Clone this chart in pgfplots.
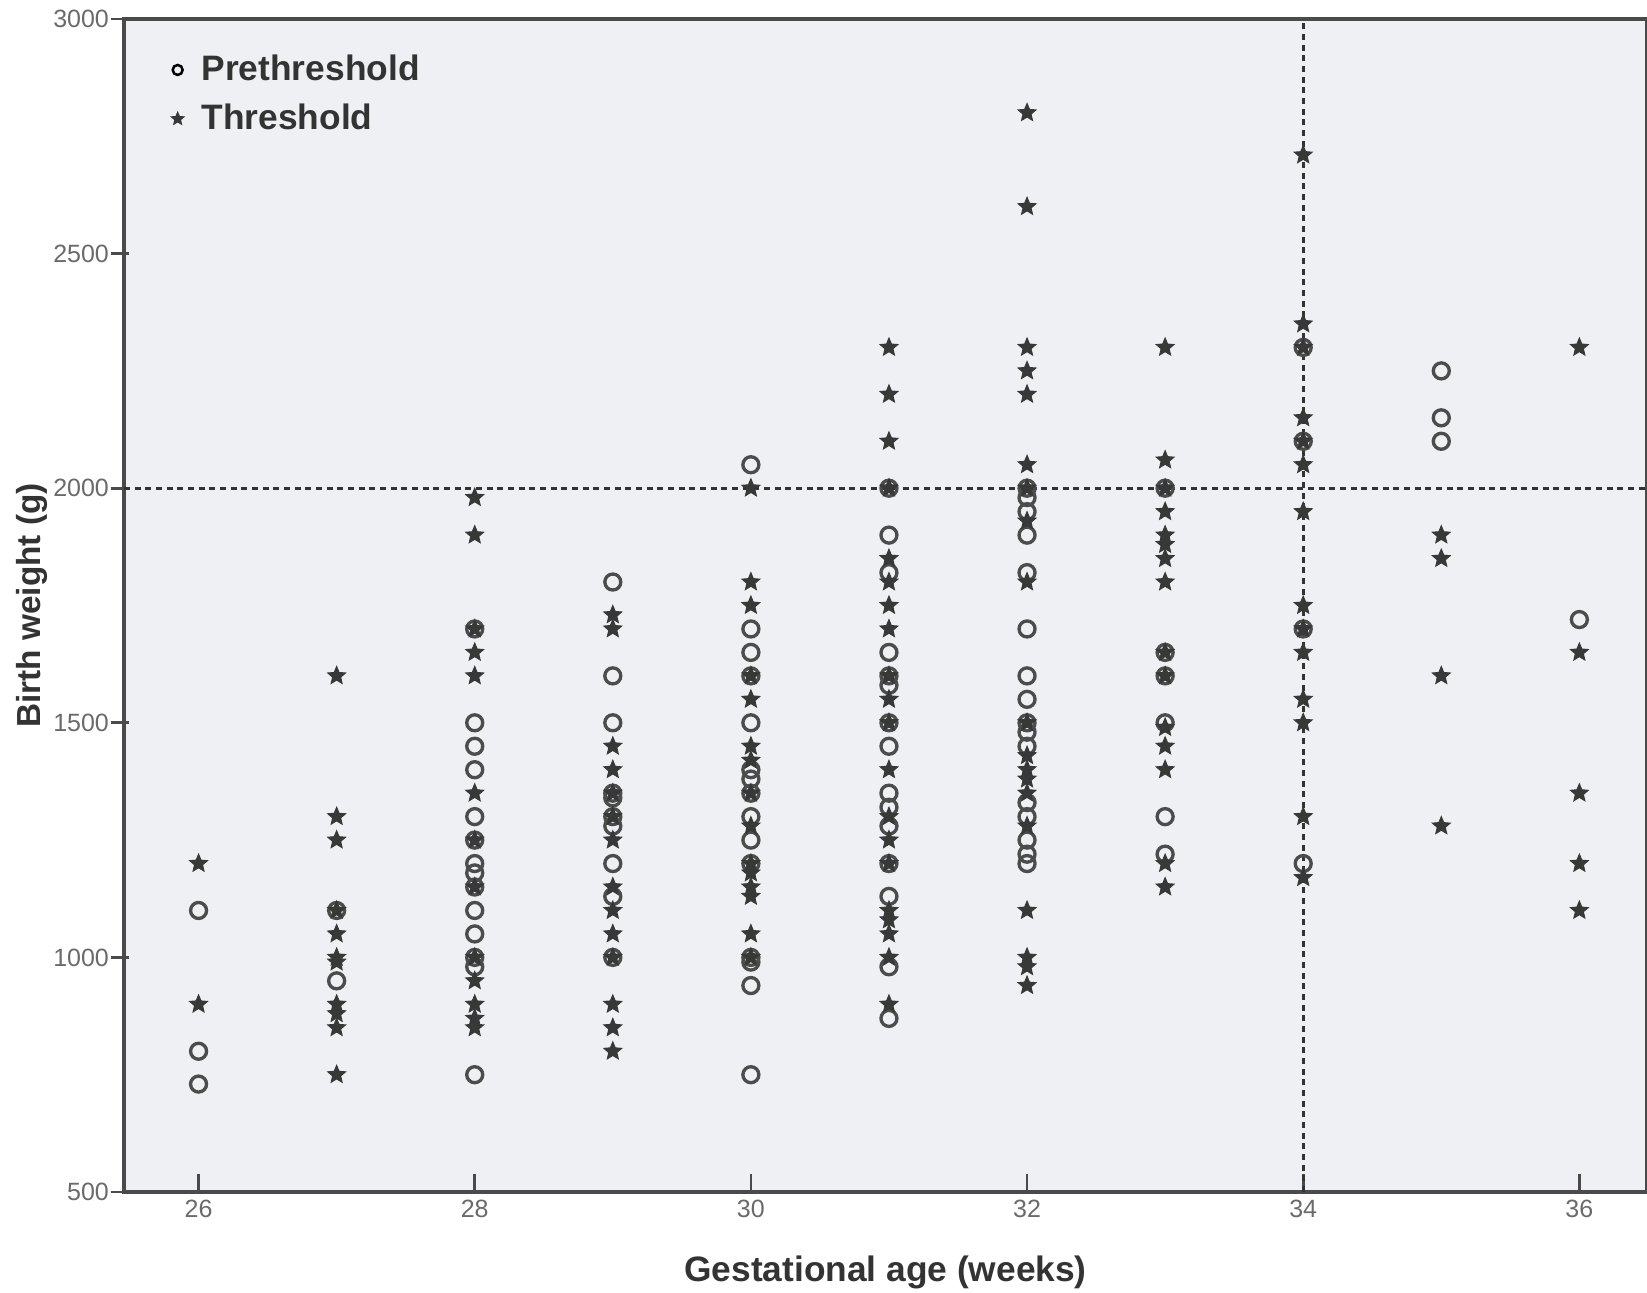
\documentclass[border=0pt]{standalone}
\usepackage{pgfplots}
\pgfplotsset{compat=1.18}
\usepackage{pgfplotstable}
\usepackage{fontspec}
\setmainfont{Liberation Sans}
\definecolor{bgc}{HTML}{EEF0F4}
\definecolor{mk}{HTML}{383838}
\definecolor{ck}{HTML}{4C4C4C}
\definecolor{ax}{HTML}{4A4A4A}
\definecolor{tl}{HTML}{6A6A6A}

\makeatletter
\pgfdeclareplotmark{fstar}{%
  \pgfpathmoveto{\pgfqpointpolar{90}{\pgfplotmarksize}}%
  \pgfpathlineto{\pgfqpointpolar{126}{0.45\pgfplotmarksize}}%
  \pgfpathlineto{\pgfqpointpolar{162}{\pgfplotmarksize}}%
  \pgfpathlineto{\pgfqpointpolar{198}{0.45\pgfplotmarksize}}%
  \pgfpathlineto{\pgfqpointpolar{234}{\pgfplotmarksize}}%
  \pgfpathlineto{\pgfqpointpolar{270}{0.45\pgfplotmarksize}}%
  \pgfpathlineto{\pgfqpointpolar{306}{\pgfplotmarksize}}%
  \pgfpathlineto{\pgfqpointpolar{342}{0.45\pgfplotmarksize}}%
  \pgfpathlineto{\pgfqpointpolar{18}{\pgfplotmarksize}}%
  \pgfpathlineto{\pgfqpointpolar{54}{0.45\pgfplotmarksize}}%
  \pgfpathclose
  \pgfusepathqfillstroke
}
\makeatother

\pgfplotstableread{
x y
26 1100
26 800
26 730
27 1100
27 950
28 1700
28 1500
28 1450
28 1400
28 1300
28 1250
28 1200
28 1180
28 1150
28 1100
28 1050
28 1000
28 980
28 750
29 1800
29 1600
29 1500
29 1350
29 1340
29 1300
29 1280
29 1200
29 1130
29 1000
30 2050
30 1700
30 1650
30 1600
30 1500
30 1400
30 1380
30 1350
30 1300
30 1250
30 1200
30 1000
30 990
30 940
30 750
31 2000
31 1900
31 1820
31 1650
31 1600
31 1580
31 1500
31 1450
31 1350
31 1320
31 1280
31 1200
31 1130
31 980
31 870
32 2000
32 1980
32 1950
32 1900
32 1820
32 1700
32 1600
32 1550
32 1500
32 1480
32 1450
32 1330
32 1300
32 1250
32 1220
32 1200
33 2000
33 1650
33 1600
33 1500
33 1300
33 1220
34 2300
34 2100
34 1700
34 1200
35 2250
35 2150
35 2100
36 1720
}\pre

\pgfplotstableread{
x y
26 1200
26 900
27 1600
27 1300
27 1250
27 1100
27 1050
27 1000
27 990
27 900
27 880
27 850
27 750
28 1980
28 1900
28 1700
28 1650
28 1600
28 1350
28 1250
28 1150
28 1000
28 950
28 900
28 870
28 850
29 1730
29 1700
29 1450
29 1400
29 1350
29 1300
29 1250
29 1150
29 1100
29 1050
29 1000
29 900
29 850
29 800
30 2000
30 1800
30 1750
30 1600
30 1550
30 1450
30 1420
30 1350
30 1280
30 1200
30 1180
30 1150
30 1130
30 1050
30 1000
31 2300
31 2200
31 2100
31 2000
31 1850
31 1800
31 1750
31 1700
31 1600
31 1550
31 1500
31 1400
31 1300
31 1250
31 1200
31 1100
31 1080
31 1050
31 1000
31 900
32 2800
32 2600
32 2300
32 2250
32 2200
32 2050
32 2000
32 1930
32 1800
32 1500
32 1430
32 1400
32 1380
32 1350
32 1280
32 1100
32 1000
32 980
32 940
33 2300
33 2060
33 2000
33 1950
33 1900
33 1880
33 1850
33 1800
33 1650
33 1600
33 1490
33 1450
33 1400
33 1200
33 1150
34 2710
34 2350
34 2300
34 2150
34 2100
34 2050
34 1950
34 1750
34 1700
34 1650
34 1550
34 1500
34 1300
34 1170
35 1900
35 1850
35 1600
35 1280
36 2300
36 1650
36 1350
36 1200
36 1100
}\thr

\begin{document}
\begin{tikzpicture}
\begin{axis}[
  scale only axis,
  width=456.9pt, height=351.9pt,
  xmin=25.46, xmax=36.49,
  ymin=500, ymax=3000,
  xtick={26,28,...,36},
  ytick={500,1000,...,3000},
  xtick pos=bottom, ytick pos=left,
  minor tick num=0,
  axis background/.style={fill=bgc},
  axis line style={draw=ax, line width=1pt},
  tick align=inside,
  major tick length=5.5pt,
  xtick style={draw=ax, line width=0.8pt},
  ytick style={draw=ax, line width=0.8pt, xshift=-4pt},
  tick label style={font=\fontsize{7.5}{8}\selectfont, text=tl},
  /pgf/number format/assume math mode=true,
  /pgf/number format/1000 sep={},
  xticklabel style={yshift=1pt},
  yticklabel style={xshift=-1pt},
  clip=false,
  legend style={at={(axis description cs:0,1)}, anchor=north west,
    xshift=11pt, yshift=-6.5pt, draw=none, fill=none,
    font=\fontsize{10.6}{12}\selectfont\bfseries, text=black!80,
    row sep=1.5pt, nodes={inner xsep=2pt}},
  legend cell align=left,
  legend image code/.code={\draw plot coordinates {(0pt,0pt)}; \path (5pt,0pt);},
]
\addplot[forget plot, draw=black!80, line width=0.8pt, dash pattern=on 1.8pt off 1.4pt]
  coordinates {(25.46,2000) (36.49,2000)};
\addplot[forget plot, draw=black!80, line width=0.8pt, dash pattern=on 1.8pt off 1.4pt]
  coordinates {(34,500) (34,3000)};
\addplot[only marks, mark=o, mark size=2.4pt, mark options={draw=ck, line width=1pt},
  legend image post style={mark size=1.5pt, mark options={line width=0.75pt}}]
  table[x=x,y=y] {\pre};
\addlegendentry{Prethreshold}
\addplot[only marks, mark=fstar, mark size=2.8pt,
  mark options={draw=mk, fill=mk, line width=0.3pt},
  legend image post style={mark size=2pt}]
  table[x=x,y=y] {\thr};
\addlegendentry{Threshold}
\end{axis}
\node[rotate=90, font=\fontsize{10}{12}\selectfont\bfseries, text=black!80] at (-27.5pt,175.95pt) {Birth weight (g)};
\node[font=\fontsize{10.6}{12}\selectfont\bfseries, text=black!80] at (228.45pt,-24pt) {Gestational age (weeks)};
\pgfresetboundingbox
\path (-37.2pt,-30pt) rectangle (456.9pt,357.6pt);
\end{tikzpicture}
\end{document}
